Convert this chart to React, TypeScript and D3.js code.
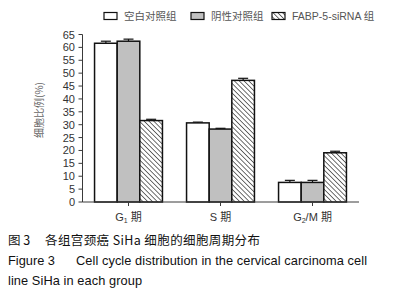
import React from "react";
import * as d3 from "d3";

const categories = ["G1", "S", "G2/M"];
const seriesNames = ["空白对照组", "阴性对照组", "FABP-5-siRNA 组"];
const blankValues = [61.6, 30.7, 7.6];
const blankErrors = [0.8, 0.3, 0.8];
const negValues = [62.4, 28.3, 7.6];
const negErrors = [0.8, 0.3, 0.8];
const sirnaValues = [31.6, 47.2, 19.1];
const sirnaErrors = [0.5, 0.8, 0.6];
const yTicks = [0, 5, 10, 15, 20, 25, 30, 35, 40, 45, 50, 55, 60, 65];

const W = 393;
const H = 298;

export default function App() {
  const x0 = d3.scaleBand<string>().domain(categories).range([82.5, 358.5]).paddingInner(0.262).paddingOuter(0.131);
  const x1 = d3.scaleBand<string>().domain(seriesNames).range([0, x0.bandwidth()]);
  const y = d3.scaleLinear().domain([0, 65]).range([202, 34.5]);

  const series = [
    { name: seriesNames[0], values: blankValues, errors: blankErrors, fill: "#ffffff" },
    { name: seriesNames[1], values: negValues, errors: negErrors, fill: "#c0c0c0" },
    { name: seriesNames[2], values: sirnaValues, errors: sirnaErrors, fill: "url(#hatch)" },
  ];

  const axisColor = "#3a3a3a";
  const font = "Arial, 'Liberation Sans', 'Noto Sans CJK SC', sans-serif";
  const cjk = "'Noto Sans CJK SC', sans-serif";

  const legendX = [104, 191, 272];

  return (
    <svg width={W} height={H} style={{ position: "absolute", left: 0, top: 0, background: "#fff" }}>
      <defs>
        <pattern id="hatch" patternUnits="userSpaceOnUse" width="3.4" height="3.4" patternTransform="rotate(-45)">
          <rect width="3.4" height="3.4" fill="#fff" />
          <line x1="0" y1="0" x2="0" y2="3.4" stroke="#222" strokeWidth="1.3" />
        </pattern>
      </defs>
      {/* legend */}
      {series.map((s, i) => (
        <g key={s.name}>
          <rect x={legendX[i]} y={12.5} width={13} height={7} fill={s.fill} stroke="#111" strokeWidth={1.2} />
          <text x={legendX[i] + 20} y={20} fontSize={10.5} fill="#555" fontFamily={i === 2 ? font : cjk}>
            {s.name}
          </text>
        </g>
      ))}
      {/* y axis */}
      <line x1={82.5} x2={82.5} y1={y(65)} y2={y(0)} stroke={axisColor} strokeWidth={1} />
      {yTicks.map((t) => (
        <g key={t}>
          <line x1={78.5} x2={82.5} y1={y(t)} y2={y(t)} stroke={axisColor} strokeWidth={1} />
          <text x={75} y={y(t) + 4} textAnchor="end" fontSize={11} fill="#333" fontFamily={font}>
            {t}
          </text>
        </g>
      ))}
      <text
        transform={`translate(43,${110}) rotate(-90)`}
        textAnchor="middle"
        fontSize={10}
        fill="#666"
        fontFamily={cjk}
      >
        细胞比例(%)
      </text>
      {/* bars */}
      {categories.map((c, ci) => (
        <g key={c} transform={`translate(${x0(c)},0)`}>
          {series.map((s) => {
            const bx = x1(s.name)!;
            const bw = x1.bandwidth();
            const top = y(s.values[ci]);
            const errTop = y(s.values[ci] + s.errors[ci]);
            const cx = bx + bw / 2;
            return (
              <g key={s.name}>
                <line x1={cx} x2={cx} y1={top} y2={errTop} stroke="#111" strokeWidth={1.2} />
                <line x1={cx - 5} x2={cx + 5} y1={errTop} y2={errTop} stroke="#111" strokeWidth={1.2} />
                <rect x={bx} y={top} width={bw} height={y(0) - top} fill={s.fill} stroke="#111" strokeWidth={1.5} />
              </g>
            );
          })}
        </g>
      ))}
      {/* x axis */}
      <line x1={82.5} x2={359} y1={y(0)} y2={y(0)} stroke={axisColor} strokeWidth={1} />
      {categories.map((c) => {
        const cx = x0(c)! + x0.bandwidth() / 2;
        return (
          <g key={c}>
            <line x1={cx} x2={cx} y1={y(0)} y2={y(0) + 4} stroke={axisColor} strokeWidth={1} />
            <text x={cx} y={221} textAnchor="middle" fontSize={11} fill="#333" fontFamily={font}>
              {c === "G1" ? (
                <>
                  G<tspan fontSize={7} dy={2}>1</tspan>
                  <tspan dy={-2}> </tspan>
                  <tspan fontFamily={cjk}>期</tspan>
                </>
              ) : c === "G2/M" ? (
                <>
                  G<tspan fontSize={7} dy={2}>2</tspan>
                  <tspan dy={-2}>/M </tspan>
                  <tspan fontFamily={cjk}>期</tspan>
                </>
              ) : (
                <>
                  S <tspan fontFamily={cjk}>期</tspan>
                </>
              )}
            </text>
          </g>
        );
      })}
      {/* caption */}
      <text x={8} y={245} fontSize={12.5} fill="#111" fontFamily={cjk}>
        图 3
      </text>
      <text x={45} y={245} fontSize={12.5} fill="#111" fontFamily={cjk} textLength={215} lengthAdjust="spacing">
        各组宫颈癌 SiHa 细胞的细胞周期分布
      </text>
      <text x={8} y={265} fontSize={12.8} fill="#111" fontFamily={font}>
        Figure 3
      </text>
      <text x={76} y={265} fontSize={12.8} fill="#111" fontFamily={font} textLength={291} lengthAdjust="spacing">
        Cell cycle distribution in the cervical carcinoma cell
      </text>
      <text x={8} y={285} fontSize={12.8} fill="#111" fontFamily={font} textLength={134} lengthAdjust="spacing">
        line SiHa in each group
      </text>
    </svg>
  );
}
